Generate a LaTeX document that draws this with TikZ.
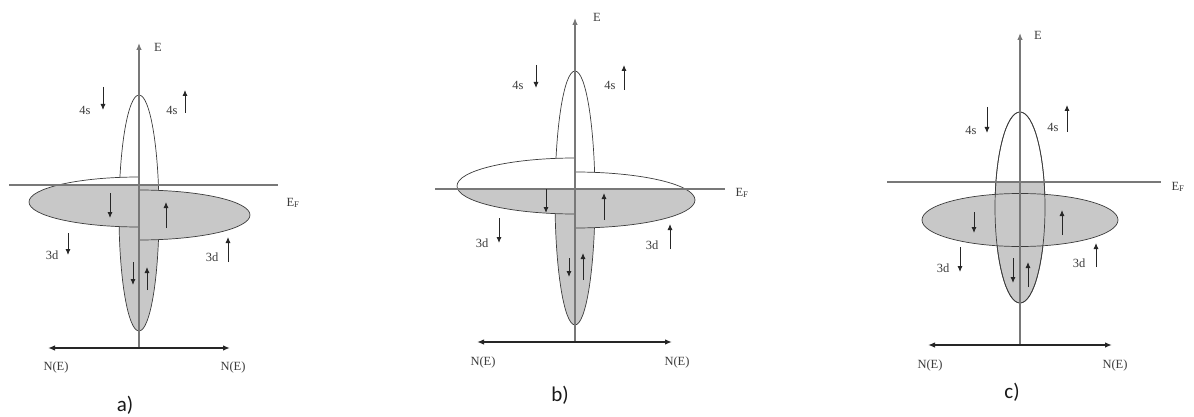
\documentclass[tikz,border=0pt]{standalone}
\usepackage{fontspec}
\setmainfont{Liberation Serif}
\newfontfamily\capfont{Carlito}
\usetikzlibrary{arrows.meta}

\definecolor{bandgray}{RGB}{200,200,200}
\definecolor{axisgray}{RGB}{120,120,120}
\definecolor{bandline}{RGB}{60,60,60}
\definecolor{labelgray}{RGB}{60,60,60}

\tikzset{
  band/.style={draw=bandline, line width=0.7pt},
  eaxis/.style={draw=axisgray, line width=1.2pt, -{Latex[length=7pt,width=5.5pt]}},
  naxis/.style={draw=black!85, line width=1.4pt, {Latex[length=7pt,width=5.5pt]}-{Latex[length=7pt,width=5.5pt]}},
  fermi/.style={draw=axisgray, line width=1.1pt},
  spin/.style={draw=black!85, line width=0.9pt, -{Latex[length=6pt,width=5pt]}},
  lbl/.style={text=labelgray, font=\fontsize{12.5}{14}\selectfont, inner sep=0pt},
  panel/.style={text=black!90, font=\capfont\fontsize{21}{23}\selectfont, inner sep=0pt},
}

% white above the Fermi level, gray below it
\newcommand{\filledband}[2]{%
  \fill[white] #1;
  \begin{scope}
    \clip (0,#2) rectangle (1194,417);
    \fill[bandgray] #1;
  \end{scope}
  \draw[band] #1;}

\begin{document}
\begin{tikzpicture}[x=1pt, y=-1pt]
  \fill[white] (0,0) rectangle (1194,417);
  \useasboundingbox (0,0) rectangle (1194,417);

  % ---------------- a) ----------------
  \filledband{(139,213) ellipse [x radius=20, y radius=118]}{185}
  \filledband{(139,227) arc [start angle=90, end angle=270, x radius=110, y radius=25] -- cycle}{185}
  \filledband{(139,190) arc [start angle=-90, end angle=90, x radius=111, y radius=25] -- cycle}{185}

  \coordinate (aO) at (139,348);
  \coordinate (aE) at (139,43);
  \coordinate (aL) at (48,348);
  \coordinate (aR) at (230,348);
  \coordinate (aF1) at (9,185);
  \coordinate (aF2) at (278,185);
  \draw[fermi] (aF1) -- (aF2);
  \draw[eaxis] (aO) -- (aE);
  \draw[naxis] (aL) -- (aR);

  \node[lbl] (aElbl) at (158,47) {E};
  \node[lbl] (aEF) at (293,203) {E\textsubscript{F}};
  \node[lbl] (aNl) at (56,367) {N(E)};
  \node[lbl] (aNr) at (233,367) {N(E)};
  \node[lbl] (a4sd) at (85,110) {4s};
  \node[lbl] (a4su) at (172,110) {4s};
  \node[lbl] (a3dd) at (52,255) {3d};
  \node[lbl] (a3du) at (212,257) {3d};
  \draw[spin] (103,87) -- (103,110);
  \draw[spin] (185,113) -- (185,90);
  \draw[spin] (68,233) -- (68,255);
  \draw[spin] (228,262) -- (228,237);
  % spins inside the bands
  \draw[spin] (110,193) -- (110,218);
  \draw[spin] (166,228) -- (166,202);
  \draw[spin] (133,262) -- (133,285);
  \draw[spin] (147,290) -- (147,267);
  \node[panel] (acap) at (125,405) {a)};

  % ---------------- b) ----------------
  \filledband{(575,198) ellipse [x radius=20, y radius=127]}{189}
  \filledband{(575,214) arc [start angle=90, end angle=270, x radius=118, y radius=28] -- cycle}{189}
  \filledband{(575,172) arc [start angle=-90, end angle=90, x radius=120, y radius=28] -- cycle}{189}

  \coordinate (bO) at (575,342);
  \coordinate (bE) at (575,18);
  \coordinate (bL) at (477,342);
  \coordinate (bR) at (672,342);
  \coordinate (bF1) at (435,189);
  \coordinate (bF2) at (725,189);
  \draw[fermi] (bF1) -- (bF2);
  \draw[eaxis] (bO) -- (bE);
  \draw[naxis] (bL) -- (bR);

  \node[lbl] (bElbl) at (597,17) {E};
  \node[lbl] (bEF) at (742,193) {E\textsubscript{F}};
  \node[lbl] (bNl) at (483,362) {N(E)};
  \node[lbl] (bNr) at (677,362) {N(E)};
  \node[lbl] (b4sd) at (518,85) {4s};
  \node[lbl] (b4su) at (610,85) {4s};
  \node[lbl] (b3dd) at (482,243) {3d};
  \node[lbl] (b3du) at (652,245) {3d};
  \draw[spin] (536,65) -- (536,88);
  \draw[spin] (624,90) -- (624,65);
  \draw[spin] (499,218) -- (499,243);
  \draw[spin] (670,249) -- (670,224);
  % spins inside the bands
  \draw[spin] (546,189) -- (546,213);
  \draw[spin] (604,220) -- (604,193);
  \draw[spin] (569,258) -- (569,277);
  \draw[spin] (583,280) -- (583,253);
  \node[panel] (bcap) at (560,395) {b)};

  % ---------------- c) ----------------
  \filledband{(1020,207.5) ellipse [x radius=25, y radius=95.5]}{182}
  \filledband{(1020,220) ellipse [x radius=98, y radius=26.5]}{182}
  \draw[band] (1020,207.5) ellipse [x radius=25, y radius=95.5];

  \coordinate (cO) at (1020,345);
  \coordinate (cE) at (1020,33);
  \coordinate (cL) at (928,345);
  \coordinate (cR) at (1112,345);
  \coordinate (cF1) at (887,182);
  \coordinate (cF2) at (1161,182);
  \draw[fermi] (cF1) -- (cF2);
  \draw[eaxis] (cO) -- (cE);
  \draw[naxis] (cL) -- (cR);

  \node[lbl] (cElbl) at (1038,35) {E};
  \node[lbl] (cEF) at (1178,187) {E\textsubscript{F}};
  \node[lbl] (cNl) at (930,365) {N(E)};
  \node[lbl] (cNr) at (1115,365) {N(E)};
  \node[lbl] (c4sd) at (971,130) {4s};
  \node[lbl] (c4su) at (1053,127) {4s};
  \node[lbl] (c3dd) at (943,268) {3d};
  \node[lbl] (c3du) at (1079,263) {3d};
  \draw[spin] (987,107) -- (987,133);
  \draw[spin] (1067,132) -- (1067,105);
  \draw[spin] (960,247) -- (960,272);
  \draw[spin] (1096,267) -- (1096,243);
  % spins inside the bands
  \draw[spin] (974,212) -- (974,233);
  \draw[spin] (1062,235) -- (1062,210);
  \draw[spin] (1013,258) -- (1013,283);
  \draw[spin] (1028,287) -- (1028,262);
  \node[panel] (ccap) at (1012,392) {c)};
\end{tikzpicture}
\end{document}
